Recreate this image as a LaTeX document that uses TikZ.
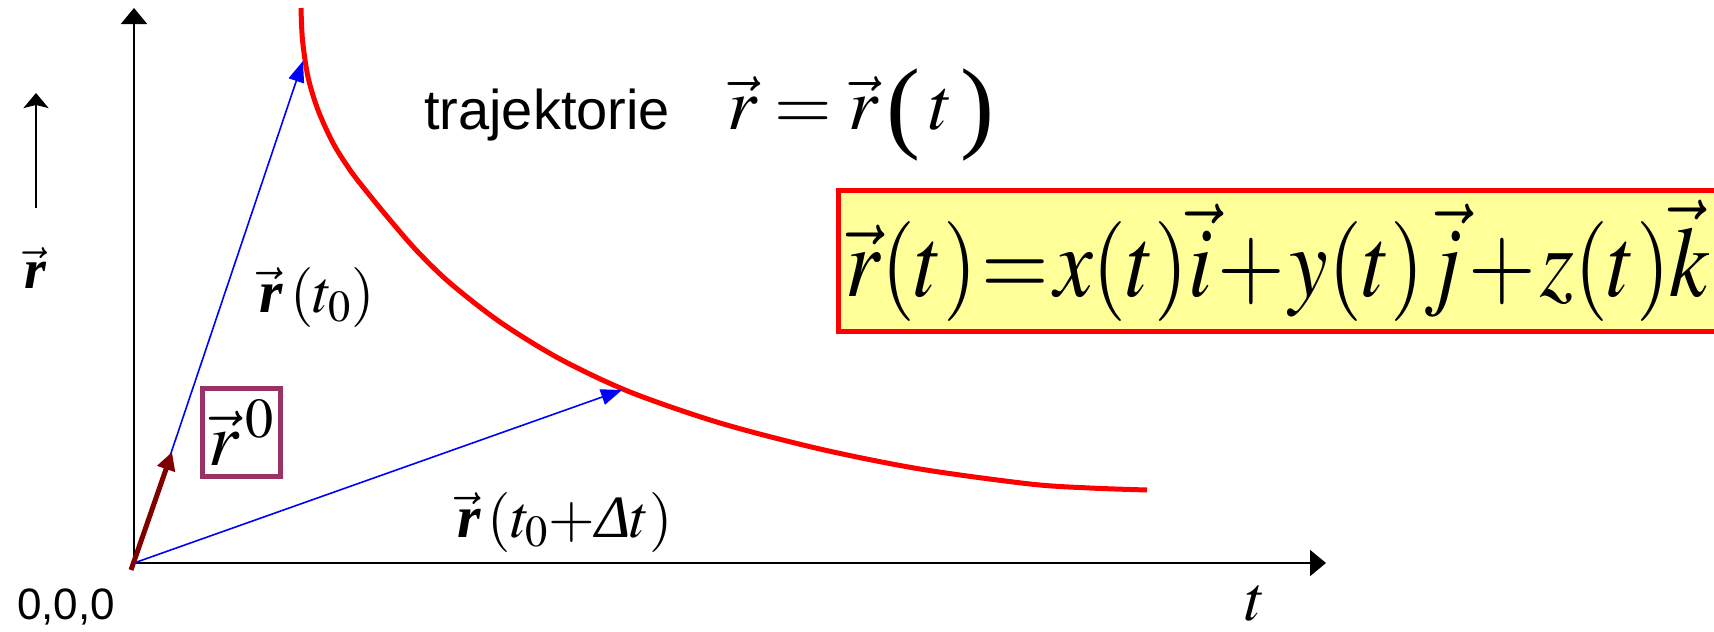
\documentclass[tikz,border=0pt]{standalone}
\usepackage{mathptmx}
\usepackage[no-math]{fontspec}
\setmainfont{Liberation Serif}
\setsansfont{Liberation Sans}
\usetikzlibrary{arrows.meta}
\definecolor{plum}{RGB}{153,51,102}
\definecolor{darkred}{RGB}{128,0,0}
\definecolor{lightyellow}{RGB}{255,255,153}
\newcommand{\bvr}{\vec{\textbf{\textit{r}}}}
\newcommand{\bigpar}[1]{\raisebox{-10pt}{\fontsize{102}{102}\selectfont #1}}

\begin{document}
\begin{tikzpicture}[x=1pt, y=-1pt,
    axis/.style={line width=2pt, -{Triangle[length=16pt, width=26pt]}},
    vecline/.style={blue, line width=1.6pt, -{Triangle[length=21pt, width=16pt]}},
    lbl/.style={inner sep=0pt, font=\fontsize{60}{64}\selectfont},
    sans/.style={inner sep=0pt, font=\sffamily\fontsize{#1}{#1}\selectfont},
    traj/.style={red, line width=5pt},
    eqbox/.style={draw=red, line width=5pt, fill=lightyellow, inner xsep=7pt,
                  align=left, font=\fontsize{100}{100}\selectfont}]
  \clip (0,0) rectangle (1714,632);
  \coordinate (O) at (134,563);
  \coordinate (ytop) at (134,8);
  \coordinate (xend) at (1326,563);
  \draw[axis] (O) -- (ytop);
  \draw[axis] (O) -- (xend);
  \node[sans=44] (origin) at (66,607) {0,0,0};
  \node[lbl, font=\fontsize{64}{64}\selectfont] (tlabel) at (1255,603) {$t$};
  % direction arrow beside the axis
  \coordinate (dirlow) at (36,208);
  \coordinate (dirtip) at (36,93);
  \draw[line width=2pt, -{Stealth[length=15pt, width=25pt, inset=3pt]}] (dirlow) -- (dirtip);
  \node[lbl, font=\fontsize{56}{60}\selectfont] (rlabel) at (36,268) {$\bvr$};
  % trajectory
  \draw[traj] plot[smooth] coordinates {(301,8) (302.5,40) (308,77) (318,110) (333,143)
    (350,170) (367,192) (390,220) (417,251) (450,283) (500,322) (560,359) (630,392)
    (720,423) (820,449) (920,469) (1030,484) (1090,488) (1147,490)};
  \coordinate (P0) at (303,61);
  \coordinate (P1) at (622,390);
  \draw[vecline] (O) -- (P0);
  \draw[vecline] (O) -- (P1);
  \coordinate (r0low) at (131,570);
  \coordinate (r0tip) at (172,452);
  \draw[darkred, line width=5pt, -{Triangle[length=18pt, width=18pt]}] (r0low) -- (r0tip);
  \node[draw=plum, line width=4.5pt, minimum width=78pt, minimum height=88pt, inner sep=0pt,
        font=\fontsize{76}{76}\selectfont] (r0box) at (241.5,432.5) {$\vec r^{\,0}$};
  \node[lbl] (lblA) at (317,297) {$\bvr\,(t_0)$};
  \node[lbl] (lblB) at (565,522) {$\bvr\mkern2mu(t_0{+}\textit{Δ}t)$};
  \node[sans=56, anchor=base west] (trajtext) at (424,129) {trajektorie};
  \node[lbl, font=\fontsize{74}{76}\selectfont, anchor=base west] (trajeq) at (727,129)
    {$\vec r = \vec r\,\bigpar{(}\,t\,\bigpar{)}$};
  \node[eqbox, anchor=north west, minimum height=141pt, text width=930pt] (eq) at (836,188)
    {\raisebox{9pt}{\scalebox{0.87}[1]{$\thickmuskip=1mu \medmuskip=1mu
      \vec r(t)=x(t)\vec i+y(t)\vec j+z(t)\vec k$}}};
\end{tikzpicture}
\end{document}
